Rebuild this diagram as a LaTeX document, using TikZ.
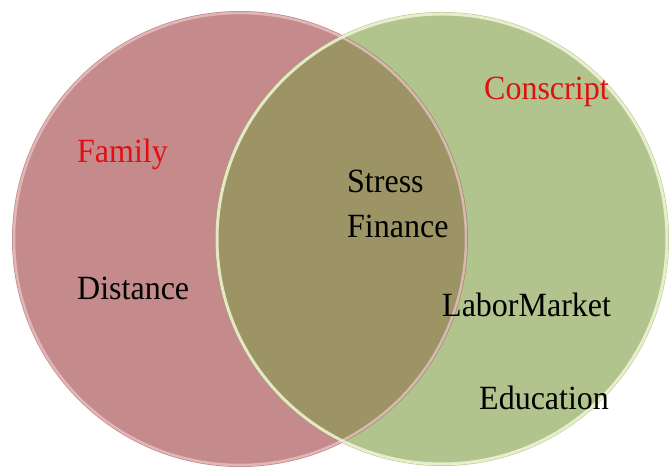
\documentclass[tikz,border=0pt]{standalone}
\usepackage{fontspec}
\setmainfont{Liberation Serif}
\definecolor{famfill}{HTML}{C58A8C}
\definecolor{confill}{HTML}{B2C48E}
\definecolor{bothfill}{HTML}{9C9464}
\definecolor{famrim}{HTML}{E8C2C4}
\definecolor{conrim}{HTML}{F2F6D6}
\definecolor{labred}{HTML}{E01010}
\tikzset{
  lab/.style={anchor=base west, inner sep=0pt, font=\fontsize{32}{34}\selectfont, yscale=1.06},
  redlab/.style={lab, text=labred},
  blacklab/.style={lab, text=black}
}
\begin{document}
\begin{tikzpicture}[x=1pt,y=1pt]
\useasboundingbox (0,0) rectangle (670,470);
\coordinate (cf) at (240,231);
\coordinate (cc) at (442,231);
\fill[famfill] (cf) circle (228);
\fill[confill] (cc) circle (227);
\begin{scope}
  \clip (cf) circle (228);
  \fill[bothfill] (cc) circle (227);
\end{scope}
\draw[famrim, line width=2.5pt, opacity=0.8] (cf) circle (226);
\draw[conrim, line width=3pt, opacity=0.85] (cc) circle (225);
\node[redlab] (family) at (77,307) {Family};
\node[redlab] (conscript) at (484,370) {Conscript};
\node[blacklab] (stress) at (347,277) {Stress};
\node[blacklab] (finance) at (347,232) {Finance};
\node[blacklab] (distance) at (77,170) {Distance};
\node[blacklab] (labor) at (442,153) {LaborMarket};
\node[blacklab] (education) at (479,60) {Education};
\end{tikzpicture}
\end{document}
